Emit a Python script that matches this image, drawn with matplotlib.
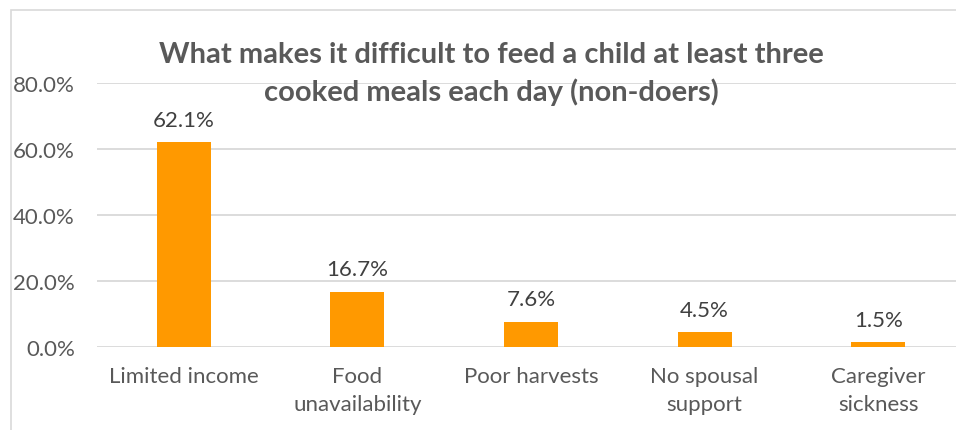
import numpy as np
import matplotlib.pyplot as plt
from matplotlib.patches import Rectangle

plt.rcParams['font.family'] = ['Lato', 'DejaVu Sans']

# Data
categories = ["Limited income", "Food\nunavailability", "Poor harvests",
              "No spousal\nsupport", "Caregiver\nsickness"]
shares = [62.1, 16.7, 7.6, 4.5, 1.5]
yticks = [0, 20, 40, 60, 80]

W, H = 956, 431
fig = plt.figure(figsize=(W / 100, H / 100), dpi=100)

# chart border (Excel style, cropped on right/bottom)
fig.patches.append(Rectangle((11 / W, -0.1), 1.2, 1.1 - 11 / H,
                             transform=fig.transFigure, fill=False,
                             edgecolor='#D9D9D9', linewidth=1.2))

ax = fig.add_axes([97 / W, 1 - 348 / H, (965 - 97) / W, (348 - 84) / H])
x = np.arange(len(categories))
bars = ax.bar(x, shares, width=0.31, color='#FF9900', zorder=3)

ax.set_xlim(-0.5, len(categories) - 0.5)
ax.set_ylim(0, 80)
ax.set_yticks(yticks)
ax.set_yticklabels([f"{v:.1f}%" for v in yticks])
ax.set_xticks(x)
ax.set_xticklabels(categories, linespacing=1.45)

for s in ax.spines.values():
    s.set_visible(False)
ax.yaxis.grid(True, color='#D9D9D9', linewidth=1.3, zorder=0)
ax.tick_params(axis='both', length=0, labelsize=16, labelcolor='#595959')
ax.tick_params(axis='y', pad=16)
ax.tick_params(axis='x', pad=14)

for b, v in zip(bars, shares):
    ax.annotate(f"{v:.1f}%", (b.get_x() + b.get_width() / 2, v),
                xytext=(0, 9), textcoords='offset points',
                ha='center', va='bottom', fontsize=16, color='#404040')

fig.text(491 / W, 1 - 74 / H,
         "What makes it difficult to feed a child at least three\ncooked meals each day (non-doers)",
         ha='center', va='center', fontsize=21, fontweight='bold',
         color='#595959', linespacing=1.45)

fig.savefig("out.png", dpi=100)
